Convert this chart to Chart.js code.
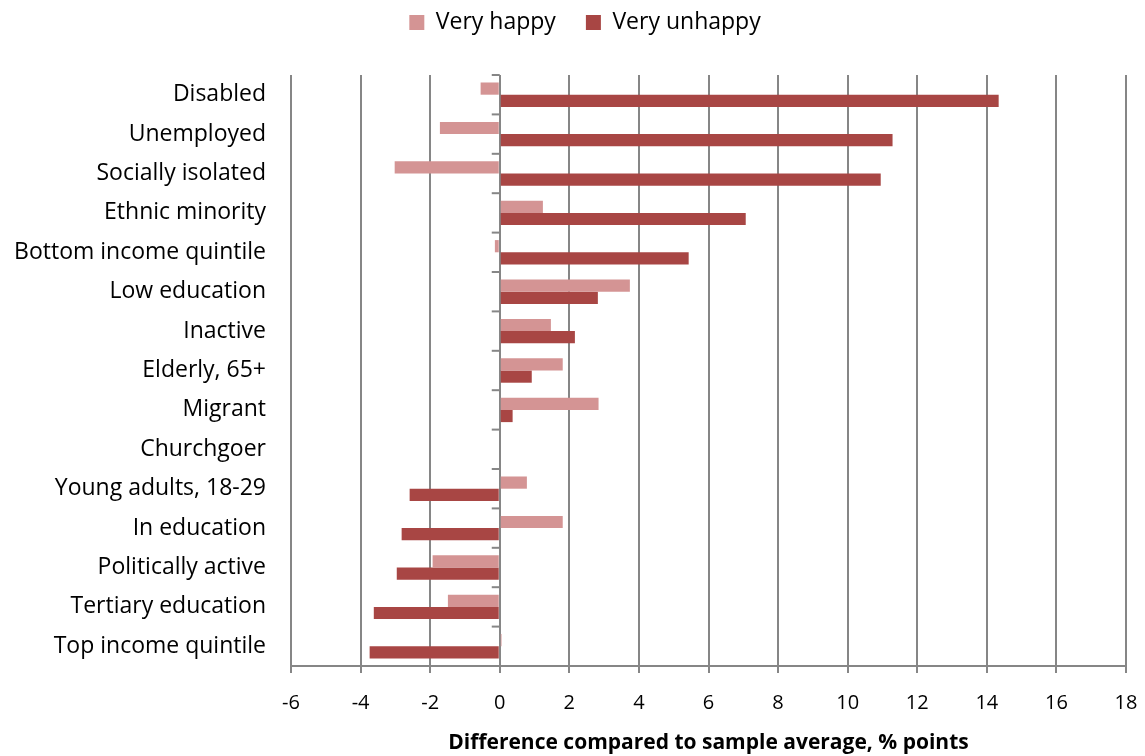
<!DOCTYPE html>
<html>
<head>
<meta charset="utf-8">
<script src="https://cdn.jsdelivr.net/npm/chart.js@4"></script>
<style>
  html, body { margin: 0; padding: 0; background: #fff; }
  #wrap { width: 1145px; height: 756px; }
</style>
</head>
<body>
<div id="wrap"><canvas id="chart" width="1145" height="756"></canvas></div>
<script>
const groups = ["Disabled", "Unemployed", "Socially isolated", "Ethnic minority", "Bottom income quintile",
  "Low education", "Inactive", "Elderly, 65+", "Migrant", "Churchgoer", "Young adults, 18-29",
  "In education", "Politically active", "Tertiary education", "Top income quintile"];
const veryHappy = [-0.55, -1.72, -3.02, 1.24, -0.14, 3.74, 1.47, 1.81, 2.84, 0, 0.78, 1.81, -1.93, -1.49, 0.05];
const veryUnhappy = [14.34, 11.29, 10.95, 7.07, 5.43, 2.82, 2.16, 0.92, 0.37, 0, -2.59, -2.82, -2.96, -3.62, -3.74];
const xTicks = [-6, -4, -2, 0, 2, 4, 6, 8, 10, 12, 14, 16, 18];

const font = "'Open Sans', 'Noto Sans', sans-serif";

// little tick marks on the zero line between categories
const zeroTicks = {
  id: "zeroTicks",
  afterDatasetsDraw(chart) {
    const { ctx, scales: { x, y } } = chart;
    const x0 = x.getPixelForValue(0);
    const step = y.getPixelForValue(1) - y.getPixelForValue(0);
    ctx.save();
    ctx.strokeStyle = "#868686";
    ctx.lineWidth = 2;
    for (let i = 0; i < groups.length; i++) {
      const py = y.getPixelForValue(i) - step / 2;
      ctx.beginPath();
      ctx.moveTo(x0 - 8, py);
      ctx.lineTo(x0, py);
      ctx.stroke();
    }
    ctx.restore();
  }
};

// extra space under the legend, and nudge it right a bit
const legendGap = {
  id: "legendGap",
  beforeInit(chart) {
    const fit = chart.legend.fit;
    chart.legend.fit = function () {
      fit.bind(chart.legend)();
      this.height += 31;
    };
  },
  afterLayout(chart) {
    const lg = chart.legend;
    const shift = 585 - (lg.left + lg.right) / 2;
    lg.left += shift;
    lg.right += shift;
  }
};

new Chart(document.getElementById("chart").getContext("2d"), {
  type: "bar",
  data: {
    labels: groups,
    datasets: [
      { label: "Very happy", data: veryHappy, backgroundColor: "#d49494" },
      { label: "Very unhappy", data: veryUnhappy, backgroundColor: "#a84644" }
    ]
  },
  options: {
    indexAxis: "y",
    responsive: false,
    animation: false,
    layout: { padding: { top: -19, right: 19, bottom: 0, left: 0 } },
    datasets: { bar: { categoryPercentage: 0.62, barPercentage: 1 } },
    plugins: {
      legend: {
        position: "top",
        labels: { font: { family: font, size: 23 }, color: "#000", boxWidth: 15, boxHeight: 15, padding: 30 }
      },
      tooltip: { enabled: false }
    },
    scales: {
      x: {
        min: -6, max: 18,
        afterBuildTicks: s => { s.ticks = xTicks.map(v => ({ value: v })); },
        grid: { color: "#868686", lineWidth: 2, tickLength: 7, drawOnChartArea: true },
        border: { color: "#868686", width: 2 },
        ticks: { font: { family: font, size: 20 }, color: "#000", padding: 18 },
        title: { display: true, text: "Difference compared to sample average, % points",
          font: { family: font, size: 21, weight: "bold" }, color: "#000", padding: { top: 10, bottom: 0 } },
        afterFit: s => { s.height = 90; s.paddingRight = 0; s.paddingLeft = 0; }
      },
      y: {
        grid: { display: false },
        border: { display: false },
        ticks: { font: { family: font, size: 23 }, color: "#000", padding: 17 },
        afterFit: s => { s.width = 291; }
      }
    }
  },
  plugins: [zeroTicks, legendGap]
});
</script>
</body>
</html>
